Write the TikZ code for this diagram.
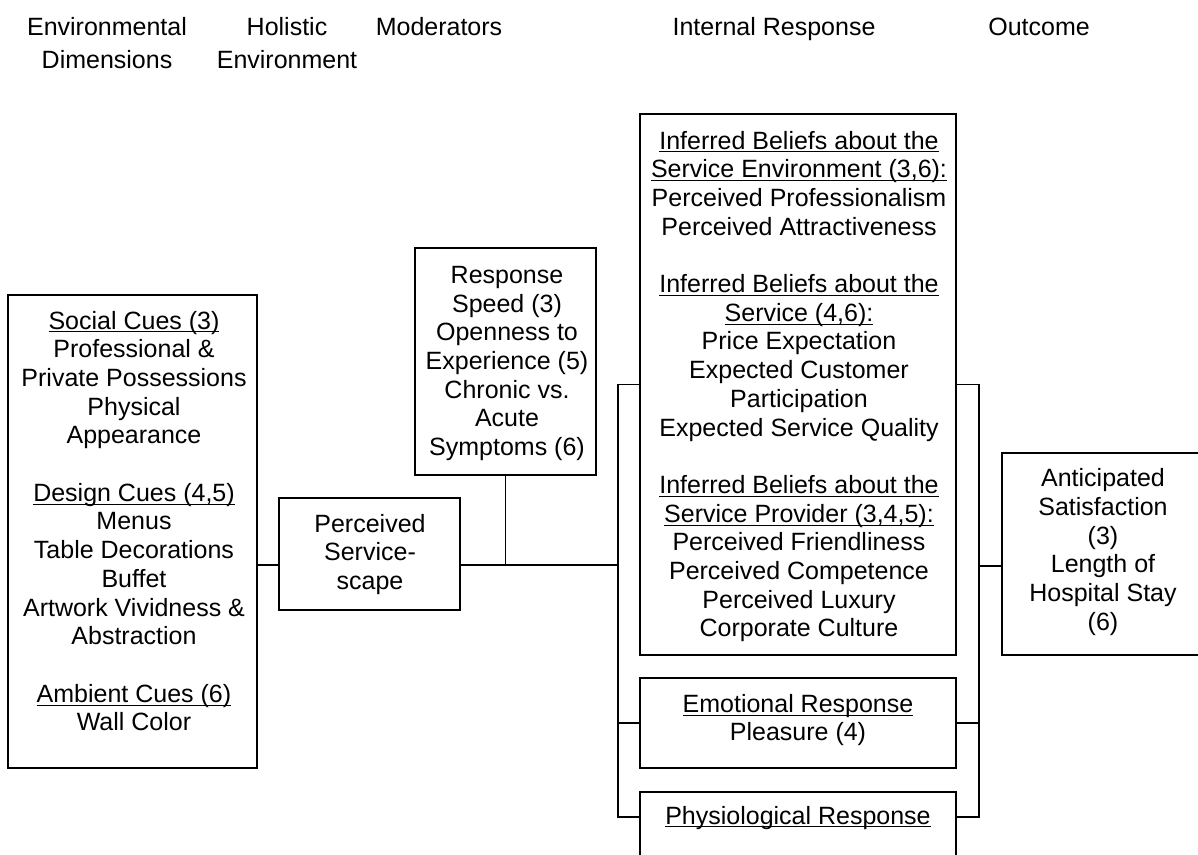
\documentclass[tikz,border=0pt]{standalone}
\usepackage{fontspec}
\setmainfont{Liberation Sans}
% underline close to the baseline
\newcommand{\ulx}[1]{\underline{\raisebox{0pt}[\height][0pt]{#1}}}

\begin{document}
\begin{tikzpicture}[x=0.5pt,y=-0.5pt,line width=0.65pt,
    box/.style={draw,inner sep=0pt},
    boxtext/.style={align=center,inner sep=0pt,font=\fontsize{12.5}{14.35}\selectfont},
    header/.style={align=center,inner sep=0pt,font=\fontsize{12.5}{16.3}\selectfont}]
        \useasboundingbox (0,0) rectangle (1198,855);
        \clip (0,0) rectangle (1198,855);
        % Column headers
        \node[header] (hdim) at (107,43) {Environmental\\Dimensions};
        \node[header] (hhol) at (287,43) {Holistic\\Environment};
        \node[header,anchor=base] (hmod) at (439,36) {Moderators};
        \node[header,anchor=base] (hint) at (774,36) {Internal Response};
        \node[header,anchor=base] (hout) at (1039,36) {Outcome};
        % Environmental dimensions
        \node[box,minimum width=124.5pt,minimum height=236.5pt] (envdim) at (132.5,531.5) {};
        \node[boxtext] (envdimtext) at (134,521) {\ulx{Social Cues (3)}\\Professional \&\\Private Possessions\\Physical\\Appearance\\[14.35pt]
            \ulx{Design Cues (4,5)}\\Menus\\Table Decorations\\Buffet\\Artwork Vividness \&\\Abstraction\\[14.35pt]
            \ulx{Ambient Cues (6)}\\Wall Color};
        % Holistic environment
        \node[box,minimum width=90.5pt,minimum height=56pt] (hol) at (369.5,554) {};
        \node[boxtext] (holtext) at (370,554.5) {Perceived\\Service-\\scape};
        % Moderators
        \node[box,minimum width=90.5pt,minimum height=113.5pt] (mod) at (505.5,361.5) {};
        \node[boxtext] (modtext) at (507,363.5) {Response\\Speed (3)\\Openness to\\Experience (5)\\Chronic vs.\\Acute\\Symptoms (6)};
        % Internal response
        \node[box,minimum width=158pt,minimum height=270.5pt] (beliefs) at (798,384.5) {};
        \node[boxtext] (beliefstext) at (799,386.5) {\ulx{Inferred Beliefs about the}\\\ulx{Service Environment (3,6):}\\Perceived Professionalism\\Perceived Attractiveness\\[14.35pt]
            \ulx{Inferred Beliefs about the}\\\ulx{Service (4,6):}\\Price Expectation\\Expected Customer\\Participation\\Expected Service Quality\\[14.35pt]
            \ulx{Inferred Beliefs about the}\\\ulx{Service Provider (3,4,5):}\\Perceived Friendliness\\Perceived Competence\\Perceived Luxury\\Corporate Culture};
        \node[box,minimum width=158pt,minimum height=45pt] (emo) at (798,723) {};
        \node[boxtext] (emotext) at (798,720) {\ulx{Emotional Response}\\Pleasure (4)};
        \node[box,minimum width=158pt,minimum height=54pt] (phys) at (798,846) {};
        \node[boxtext,anchor=base] (physlbl) at (798,824) {\ulx{Physiological Response}};
        % Outcome
        \node[box,minimum width=101pt,minimum height=101pt] (outcome) at (1103,554) {};
        \node[boxtext] (outtext) at (1103,552) {Anticipated\\Satisfaction\\(3)\\Length of\\Hospital Stay\\(6)};
        % Connectors
        \coordinate (lbr) at (618,565);
        \coordinate (rbr) at (979,566);
        \draw (envdim.east |- lbr) -- (hol.west |- lbr);
        \draw (hol.east |- lbr) -- (lbr);
        \draw (mod.south) -- (mod.south |- lbr);
        \draw (beliefs.west) -| (lbr) |- (phys.west |- physlbl);
        \draw (emo.west) -- (emo.west -| lbr);
        \draw (beliefs.east) -| (rbr) |- (phys.east |- physlbl);
        \draw (emo.east) -- (emo.east -| rbr);
        \draw (rbr) -- (outcome.west |- rbr);
    \end{tikzpicture}
\end{document}
